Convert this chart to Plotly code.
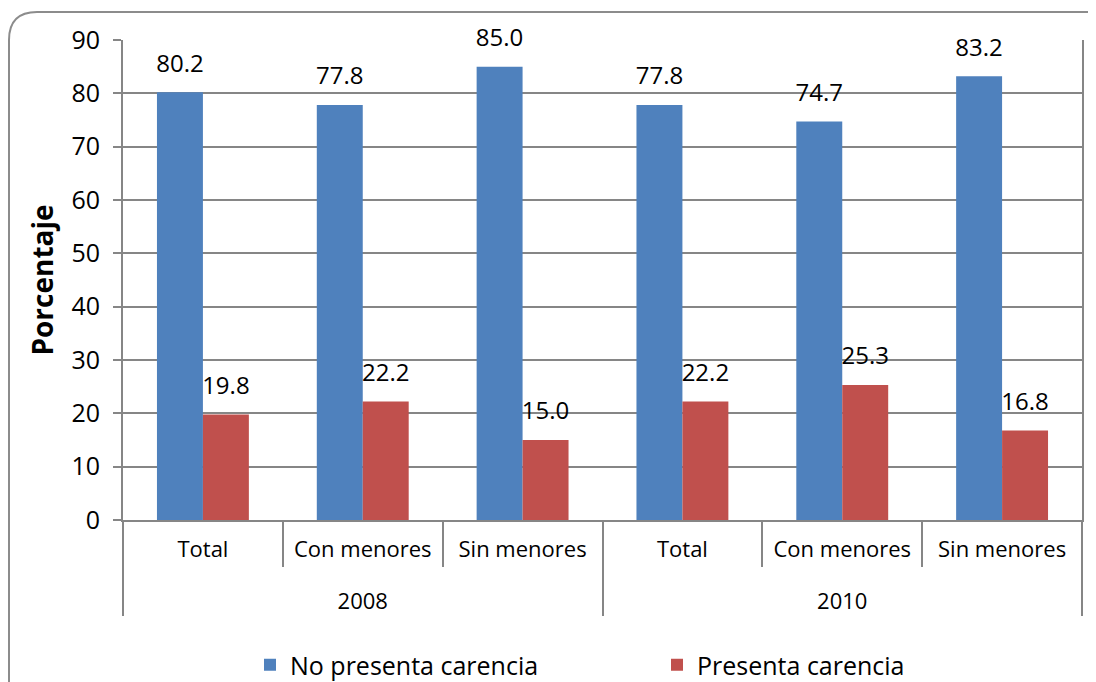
import plotly.graph_objects as go

years = ["2008", "2008", "2008", "2010", "2010", "2010"]
groups = ["Total", "Con menores", "Sin menores", "Total", "Con menores", "Sin menores"]
no_carencia = [80.2, 77.8, 85.0, 77.8, 74.7, 83.2]
carencia = [19.8, 22.2, 15.0, 22.2, 25.3, 16.8]

# page body has an 8px margin, so the figure is laid out 8px up/left of the reference
W, H = 1096, 682
L, R, T, B = 115, 22, 32, 170
pw, ph = W - L - R, H - T - B

FONT = "Open Sans"
GRID = "#868686"
BLUE, RED = "#4F81BD", "#C0504D"

# extra line above the year so the second level sits lower, as in the reference
year_labels = ["<br>" + y for y in years]
x = [year_labels, groups]

fig = go.Figure()
for name, vals, col in [("No presenta carencia", no_carencia, BLUE),
                        ("Presenta carencia", carencia, RED)]:
    fig.add_trace(go.Bar(x=x, y=vals, name=name, offsetgroup=name,
                         marker=dict(color=col, line=dict(width=0))))
# value labels: scatter sharing the bar's offsetgroup, invisible marker gives the gap
for name, vals in [("No presenta carencia", no_carencia), ("Presenta carencia", carencia)]:
    fig.add_trace(go.Scatter(x=x, y=vals, mode="markers+text", showlegend=False,
                             orientation="v", offsetgroup=name,
                             text=[f"{v:.1f}" for v in vals], textposition="top center",
                             textfont=dict(size=24, color="black"),
                             marker=dict(size=22, color="rgba(0,0,0,0)"),
                             hoverinfo="skip", cliponaxis=False))


# rounded outer frame (Excel chart area border), in paper coords
def px(xp):
    return (xp - L) / pw


def py(yp):
    return (H - B - yp) / ph


x0, y0, x1, y1, r = 1, 4, 1110, 700, 28
path = (f"M {px(x0)} {py(y0 + r)} Q {px(x0)} {py(y0)} {px(x0 + r)} {py(y0)} "
        f"L {px(x1 - r)} {py(y0)} Q {px(x1)} {py(y0)} {px(x1)} {py(y0 + r)} "
        f"L {px(x1)} {py(y1)} L {px(x0)} {py(y1)} Z")
fig.add_shape(type="path", path=path, xref="paper", yref="paper",
              line=dict(color="#8C8C8C", width=2), layer="below")

fig.update_layout(
    width=W, height=H,
    margin=dict(l=L, r=R, t=T, b=B, autoexpand=False),
    barmode="group", bargap=0.425, bargroupgap=0,
    scattermode="group", scattergap=0.425,
    plot_bgcolor="white", paper_bgcolor="white",
    font=dict(family=FONT, color="black"),
    showlegend=True,
    legend=dict(orientation="h", xref="container", yref="container",
                x=242 / W, xanchor="left", y=1 - 657 / H, yanchor="middle",
                font=dict(size=25), entrywidth=362, itemwidth=30,
                bgcolor="rgba(0,0,0,0)"),
)
fig.update_xaxes(type="multicategory", showline=True, linecolor=GRID, linewidth=2,
                 ticks="outside", tickson="boundaries", ticklen=45, tickcolor=GRID,
                 tickwidth=2, showdividers=True, dividercolor=GRID, dividerwidth=2,
                 tickfont=dict(size=22), ticklabelstandoff=9, showgrid=False,
                 automargin=False)
fig.update_yaxes(range=[0, 90], dtick=10, showgrid=True, gridcolor=GRID, gridwidth=2,
                 showline=True, linecolor=GRID, linewidth=2, mirror=True,
                 ticks="outside", ticklen=8, tickcolor=GRID, tickwidth=2,
                 tickfont=dict(size=25), ticklabelstandoff=8, zeroline=False,
                 automargin=False,
                 title=dict(text="<b>Porcentaje</b>", font=dict(size=28), standoff=10))

fig.write_html("out.html")
